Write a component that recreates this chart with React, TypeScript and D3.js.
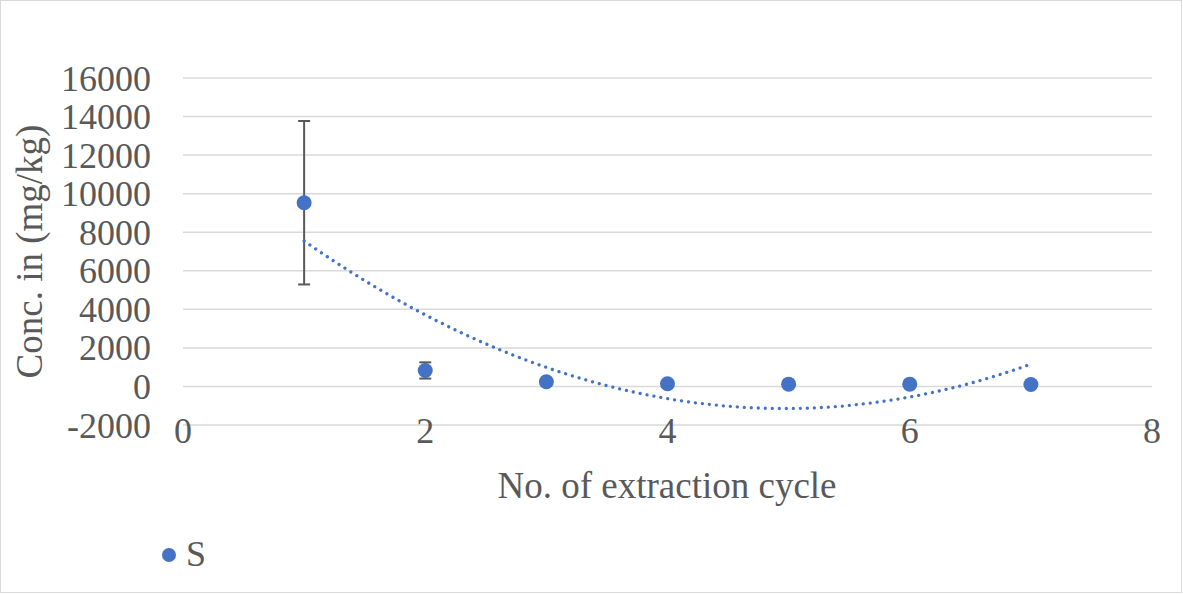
import React from "react";
import * as d3 from "d3";

// Extraction-cycle concentrations of S (mg/kg) with standard deviations
const cycles = [1, 2, 3, 4, 5, 6, 7];
const concS = [9530, 830, 240, 140, 120, 120, 100];
const errS = [4240, 420, 40, 30, 30, 30, 20];
const yTicks = [-2000, 0, 2000, 4000, 6000, 8000, 10000, 12000, 14000, 16000];
const xTicks = [0, 2, 4, 6, 8];
const seriesName = "S";

const W = 1183;
const H = 594;
const FONT = "'Liberation Serif', 'Times New Roman', serif";
const TEXT = "#595959";
const BLUE = "#4472C4";

// Least-squares polynomial of order 2 (as a spreadsheet trendline)
function quadFit(xs: number[], ys: number[]) {
  const n = xs.length;
  let s1 = 0, s2 = 0, s3 = 0, s4 = 0, t0 = 0, t1 = 0, t2 = 0;
  for (let i = 0; i < n; i++) {
    const x = xs[i], y = ys[i];
    s1 += x; s2 += x * x; s3 += x ** 3; s4 += x ** 4;
    t0 += y; t1 += x * y; t2 += x * x * y;
  }
  const A = [
    [n, s1, s2, t0],
    [s1, s2, s3, t1],
    [s2, s3, s4, t2],
  ];
  for (let c = 0; c < 3; c++) {
    for (let r = c + 1; r < 3; r++) {
      const f = A[r][c] / A[c][c];
      for (let k = c; k < 4; k++) A[r][k] -= f * A[c][k];
    }
  }
  const coef = [0, 0, 0];
  for (let r = 2; r >= 0; r--) {
    let s = A[r][3];
    for (let k = r + 1; k < 3; k++) s -= A[r][k] * coef[k];
    coef[r] = s / A[r][r];
  }
  return (x: number) => coef[0] + coef[1] * x + coef[2] * x * x;
}

export default function App() {
  const x = d3.scaleLinear().domain([0, 8]).range([183, 1152]);
  const y = d3.scaleLinear().domain([-2000, 16000]).range([425, 78]);

  const fit = quadFit(cycles, concS);
  const trendPts = d3.range(0, 301).map((i) => {
    const xv = 1 + (6 * i) / 300;
    return [xv, fit(xv)] as [number, number];
  });
  const trendPath = d3
    .line<[number, number]>()
    .x((d) => x(d[0]))
    .y((d) => y(d[1]))
    .curve(d3.curveLinear)(trendPts);

  return (
    <svg
      width={W}
      height={H}
      style={{ position: "absolute", left: 0, top: 0, background: "#fff" }}
      fontFamily={FONT}
    >
      <rect x={0.5} y={0.5} width={W - 2} height={H - 2} fill="#fff" stroke="#d9d9d9" strokeWidth={1} />

      {/* horizontal gridlines */}
      {yTicks.map((t) => (
        <line key={t} x1={x(0)} x2={x(8)} y1={y(t)} y2={y(t)} stroke="#d9d9d9" strokeWidth={1.5} />
      ))}

      {/* y tick labels */}
      {yTicks.map((t) => (
        <text key={t} x={151} y={y(t)} dy="0.35em" textAnchor="end" fontSize={36} fill={TEXT}>
          {t}
        </text>
      ))}

      {/* x tick labels */}
      {xTicks.map((t) => (
        <text key={t} x={x(t)} y={443} textAnchor="middle" fontSize={36} fill={TEXT}>
          {t}
        </text>
      ))}

      {/* axis titles */}
      <text
        transform={`translate(42, ${y(7000)}) rotate(-90)`}
        textAnchor="middle"
        fontSize={37}
        fill={TEXT}
      >
        Conc. in (mg/kg)
      </text>
      <text x={667} y={498} textAnchor="middle" fontSize={37} fill={TEXT}>
        No. of extraction cycle
      </text>

      {/* error bars */}
      {cycles.map((c, i) => {
        const cx = x(c);
        const top = y(concS[i] + errS[i]);
        const bot = y(concS[i] - errS[i]);
        return (
          <g key={c} stroke="#595959" strokeWidth={2}>
            <line x1={cx} x2={cx} y1={top} y2={bot} />
            <line x1={cx - 6} x2={cx + 6} y1={top} y2={top} />
            <line x1={cx - 6} x2={cx + 6} y1={bot} y2={bot} />
          </g>
        );
      })}

      {/* polynomial trendline */}
      <path
        d={trendPath || ""}
        fill="none"
        stroke={BLUE}
        strokeWidth={3.3}
        strokeLinecap="round"
        strokeDasharray="0.01 7"
      />

      {/* data points */}
      {cycles.map((c, i) => (
        <circle key={c} cx={x(c)} cy={y(concS[i])} r={7.5} fill={BLUE} />
      ))}

      {/* legend */}
      <circle cx={169} cy={555} r={7} fill={BLUE} />
      <text x={186} y={566} fontSize={36} fill={TEXT}>
        {seriesName}
      </text>
    </svg>
  );
}
